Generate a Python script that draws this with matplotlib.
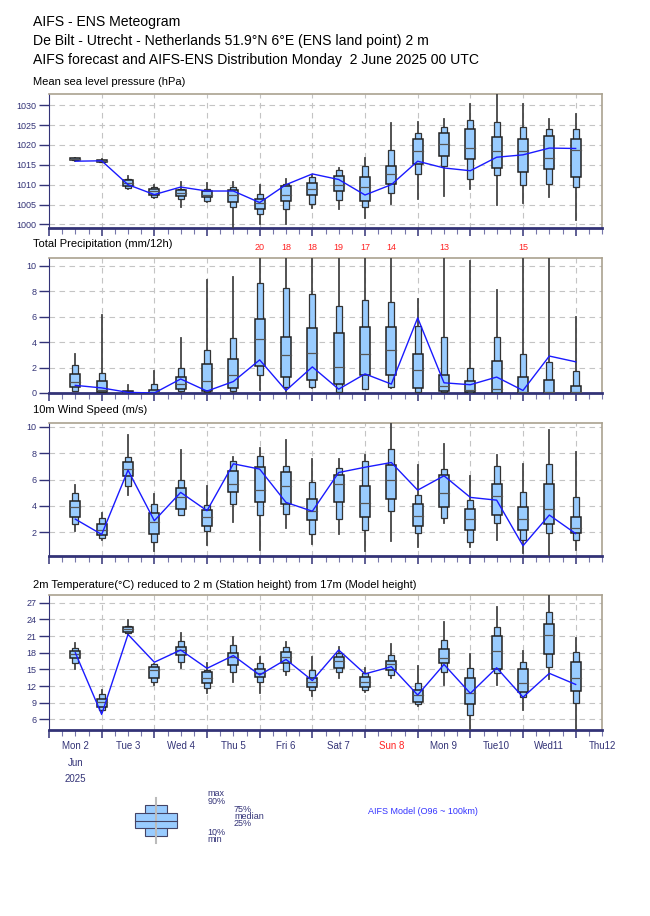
import matplotlib
matplotlib.use("Agg")
import matplotlib.pyplot as plt
from matplotlib.patches import Rectangle
from matplotlib.transforms import blended_transform_factory

plt.rcParams["font.family"] = ["Liberation Sans", "DejaVu Sans"]

# forecast steps in days from Mon 2 June 2025 00 UTC (every 12 h)
steps = [0.5 * i for i in range(1, 21)]

# Mean sea level pressure (hPa)
msl_min = [1016.0, 1015.6, 1008.8, 1006.7, 1004.4, 1005.7, 999.0, 1000.1, 1000.1, 1004.2,
           1003.9, 1001.7, 1005.1, 1006.5, 1007.1, 1009.0, 1004.9, 1005.4, 1007.0, 1001.1]
msl_p10 = [1016.1, 1015.7, 1009.2, 1007.0, 1006.3, 1005.9, 1004.4, 1002.5, 1004.0, 1005.1,
           1006.1, 1004.4, 1007.8, 1012.6, 1014.7, 1011.3, 1012.4, 1009.8, 1010.1, 1009.3]
msl_p25 = [1016.2, 1015.8, 1009.6, 1007.3, 1007.1, 1006.8, 1005.6, 1004.0, 1005.9, 1007.3,
           1008.4, 1005.9, 1010.1, 1015.2, 1017.2, 1016.5, 1014.3, 1013.1, 1013.9, 1012.0]
msl_med = [1016.4, 1016.0, 1010.4, 1008.4, 1007.9, 1007.5, 1007.4, 1005.3, 1007.5, 1008.8,
           1010.0, 1009.5, 1012.6, 1018.4, 1020.1, 1019.1, 1018.4, 1018.4, 1016.7, 1018.7]
msl_p75 = [1016.6, 1016.2, 1011.1, 1009.0, 1008.6, 1008.4, 1008.6, 1006.4, 1009.6, 1010.5,
           1012.1, 1012.0, 1014.7, 1021.6, 1022.9, 1024.1, 1021.9, 1021.6, 1022.3, 1021.4]
msl_p90 = [1016.7, 1016.3, 1011.5, 1009.5, 1009.0, 1008.8, 1009.3, 1007.6, 1010.1, 1012.0,
           1013.7, 1014.7, 1018.7, 1023.1, 1024.4, 1026.2, 1025.7, 1024.4, 1024.1, 1024.1]
msl_max = [1016.8, 1016.5, 1012.2, 1009.8, 1010.6, 1010.3, 1010.6, 1009.9, 1011.4, 1012.4,
           1014.3, 1016.6, 1025.6, 1025.8, 1026.5, 1030.3, 1034.0, 1030.3, 1026.5, 1027.7]
msl_det = [1015.9, 1016.0, 1010.0, 1007.5, 1009.4, 1008.4, 1008.4, 1005.5, 1010.0, 1012.7,
           1011.3, 1007.4, 1010.0, 1015.9, 1014.2, 1013.5, 1016.9, 1017.5, 1019.2, 1019.1]

# Total precipitation (mm/12h)
tp_min = [0.2, 0.05, 0.0, 0.0, 0.05, 0.05, 0.08, 0.2, 0.1, 0.4,
          0.05, 0.3, 0.4, 0.05, 0.05, 0.0, 0.0, 0.0, 0.0, 0.0]
tp_p10 = [0.16, 0.08, 0.02, 0.0, 0.16, 0.08, 0.16, 1.4, 0.47, 0.47,
          0.1, 0.34, 0.47, 0.08, 0.08, 0.0, 0.03, 0.03, 0.0, 0.0]
tp_p25 = [0.47, 0.08, 0.04, 0.03, 0.3, 0.16, 0.4, 2.1, 1.26, 1.0,
          0.74, 1.4, 1.45, 0.42, 0.13, 0.05, 0.03, 0.03, 0.03, 0.03]
tp_med = [0.84, 0.26, 0.08, 0.08, 0.68, 0.95, 1.42, 4.24, 2.97, 3.16,
          2.05, 3.03, 3.37, 1.84, 0.58, 0.26, 0.34, 0.08, 0.05, 0.05]
tp_p75 = [1.5, 0.95, 0.12, 0.26, 1.26, 2.3, 2.7, 5.8, 4.4, 5.08,
          4.7, 5.2, 5.2, 3.03, 1.45, 0.95, 2.5, 1.26, 1.05, 0.55]
tp_p90 = [2.16, 1.6, 0.15, 0.74, 1.97, 3.4, 4.3, 8.6, 8.25, 7.76,
          6.84, 7.3, 7.16, 5.26, 4.37, 2.0, 4.37, 3.1, 2.4, 1.74]
tp_max = [3.1, 6.1, 0.6, 1.7, 4.3, 8.9, 9.1, 20, 18, 18,
          19, 17, 14, 7.4, 13, 10.4, 8.1, 15, 10.9, 6.0]
tp_det = [0.6, 0.4, 0.05, 0.0, 1.1, 0.15, 0.9, 2.6, 0.2, 2.05,
          0.3, 1.5, 0.7, 5.9, 0.8, 0.65, 1.25, 0.2, 2.9, 2.45]

# 10m wind speed (m/s)
ws_min = [2.1, 1.4, 4.8, 0.6, 3.6, 1.0, 2.75, 0.66, 2.35, 1.1,
          1.84, 0.6, 1.36, 0.9, 2.7, 0.9, 1.4, 0.45, 0.2, 0.66]
ws_p10 = [2.6, 1.54, 5.53, 1.29, 3.3, 2.12, 4.12, 3.3, 3.38, 1.84,
          3.0, 2.17, 3.64, 1.97, 3.05, 1.29, 2.68, 1.4, 1.92, 1.4]
ws_p25 = [3.18, 1.8, 6.31, 1.84, 3.79, 2.5, 5.08, 4.32, 4.14, 2.93,
          4.32, 3.18, 4.52, 2.5, 3.9, 2.17, 3.28, 2.17, 2.63, 1.92]
ws_med = [3.89, 2.17, 6.84, 2.8, 4.65, 3.18, 5.63, 5.23, 5.5, 3.6,
          5.7, 4.2, 5.96, 3.23, 5.0, 3.0, 4.77, 3.0, 3.74, 2.3]
ws_p75 = [4.37, 2.63, 7.32, 3.43, 5.33, 3.69, 6.64, 6.97, 6.57, 4.52,
          6.36, 5.5, 7.1, 4.12, 6.36, 3.76, 5.7, 3.94, 5.63, 3.13]
ws_p90 = [4.95, 3.1, 7.73, 4.14, 5.96, 4.04, 7.4, 7.83, 7.05, 5.83,
          6.87, 7.4, 8.36, 4.82, 6.77, 4.44, 7.05, 5.03, 7.15, 4.7]
ws_max = [5.58, 3.48, 9.42, 4.9, 8.28, 5.5, 7.73, 8.4, 9.0, 7.6,
          7.55, 7.9, 10.4, 7.1, 8.74, 6.3, 7.85, 7.17, 9.75, 8.1]
ws_det = [3.0, 1.84, 6.72, 2.88, 5.03, 3.64, 7.2, 6.8, 4.27, 3.6,
          6.54, 6.94, 7.3, 5.2, 6.29, 4.65, 4.44, 0.98, 3.31, 1.9]

# 2m temperature (deg C)
t2_min = [15.1, 7.3, 21.2, 12.2, 15.3, 10.7, 12.8, 10.7, 14.0, 10.3,
          13.4, 10.9, 13.4, 8.5, 12.2, 4.0, 12.2, 7.7, 13.3, 4.0]
t2_p10 = [16.1, 7.7, 21.5, 12.8, 16.3, 11.7, 14.5, 12.8, 14.8, 11.3,
          14.6, 11.3, 14.0, 8.7, 14.5, 6.8, 14.3, 10.1, 15.5, 8.9]
t2_p25 = [17.0, 8.3, 21.8, 13.4, 17.6, 12.5, 15.8, 13.6, 16.1, 11.8,
          15.2, 11.9, 14.9, 9.2, 16.1, 8.8, 15.1, 10.9, 17.7, 11.2]
t2_med = [17.8, 9.1, 22.2, 14.9, 18.5, 13.4, 17.3, 14.3, 17.3, 12.7,
          16.5, 12.8, 16.0, 10.4, 17.0, 10.7, 18.3, 12.5, 21.2, 13.5]
t2_p75 = [18.3, 9.7, 22.6, 15.4, 19.0, 14.5, 18.0, 15.1, 18.2, 13.5,
          17.3, 13.6, 16.6, 11.3, 18.7, 13.4, 21.0, 15.1, 23.1, 16.4]
t2_p90 = [18.8, 10.6, 22.9, 16.0, 20.1, 14.9, 19.4, 16.1, 19.1, 14.9,
          18.0, 14.3, 17.6, 12.5, 20.3, 15.2, 22.7, 16.3, 25.4, 18.1]
t2_max = [19.7, 11.3, 23.9, 16.0, 21.5, 16.1, 20.9, 17.3, 20.0, 17.3,
          19.1, 15.2, 19.6, 15.7, 23.5, 17.7, 26.3, 18.3, 29.0, 20.6]
t2_det = [18.0, 6.9, 21.3, 16.3, 18.5, 15.2, 17.5, 14.0, 16.8, 13.0,
          18.5, 14.2, 15.5, 10.4, 15.9, 10.7, 15.3, 10.0, 14.3, 12.3]

day_labels = ["Mon 2", "Tue 3", "Wed 4", "Thu 5", "Fri 6", "Sat 7",
              "Sun 8", "Mon 9", "Tue10", "Wed11", "Thu12"]

NAVY = "#333377"
BOX = "#99ccff"
EDGE = "#222222"
GRID = "#c4c4c4"

fig = plt.figure(figsize=(6.5, 9.16), dpi=100)


def px(y):
    return 1 - y / 916


def make_axes(top, bottom):
    return fig.add_axes([49 / 650, px(bottom), (602 - 49) / 650, (bottom - top) / 916])


def eps_panel(ax, lo, p10, p25, med, p75, p90, hi, det, ylim, yticks):
    wide, narrow = 0.185, 0.11
    for i, x in enumerate(steps):
        ax.plot([x, x], [lo[i], hi[i]], color="#444444", lw=1.3, zorder=3)
        ax.add_patch(Rectangle((x - narrow / 2, p10[i]), narrow, p90[i] - p10[i],
                               fc=BOX, ec="#333333", lw=0.9, zorder=4))
        ax.add_patch(Rectangle((x - wide / 2, p25[i]), wide, p75[i] - p25[i],
                               fc=BOX, ec=EDGE, lw=1.1, zorder=5))
        ax.plot([x - wide / 2, x + wide / 2], [med[i], med[i]], color="#555555", lw=0.9, zorder=6)
    ax.plot(steps, det, color="#1a1aff", lw=1.0, zorder=7)

    ax.set_xlim(0, 10.5)
    ax.set_ylim(*ylim)
    ax.set_yticks(yticks)
    ax.set_xticks(range(0, 11))
    ax.set_xticks([d / 4 for d in range(0, 43)], minor=True)
    ax.set_xticklabels([])
    ax.tick_params(axis="y", colors=NAVY, labelsize=6.5, length=7, width=1, pad=2)
    ax.tick_params(axis="x", which="major", colors=NAVY, length=6, width=1.1)
    ax.tick_params(axis="x", which="minor", colors="#7777aa", length=4, width=0.8)
    for y in yticks:
        ax.axhline(y, color=GRID, lw=0.8, ls=(0, (5, 4)), zorder=1)
    for d in range(1, 11):
        ax.axvline(d, color=GRID, lw=0.8, ls=(0, (5, 4)), zorder=1)
    ax.spines["left"].set_color(NAVY)
    ax.spines["bottom"].set_color(NAVY)
    ax.spines["bottom"].set_linewidth(2)
    for side in ("top", "right"):
        ax.spines[side].set_color("#aaa290")
        ax.spines[side].set_linewidth(1.2)


# header
fig.text(33 / 650, px(26), "AIFS - ENS Meteogram", fontsize=10.1, va="baseline")
fig.text(33 / 650, px(45), "De Bilt - Utrecht - Netherlands 51.9°N 6°E (ENS land point) 2 m",
         fontsize=10.1, va="baseline")
fig.text(33 / 650, px(64), "AIFS forecast and AIFS-ENS Distribution Monday  2 June 2025 00 UTC",
         fontsize=10.1, va="baseline")

ax1 = make_axes(94, 228)
eps_panel(ax1, msl_min, msl_p10, msl_p25, msl_med, msl_p75, msl_p90, msl_max, msl_det,
          (999.1, 1032.8), range(1000, 1031, 5))
fig.text(33 / 650, px(85), "Mean sea level pressure (hPa)", fontsize=8, va="baseline")

ax2 = make_axes(258, 393)
eps_panel(ax2, tp_min, tp_p10, tp_p25, tp_med, tp_p75, tp_p90, tp_max, tp_det,
          (0, 10.6), range(0, 11, 2))
fig.text(33 / 650, px(247), "Total Precipitation (mm/12h)", fontsize=8, va="baseline")
for x, m in zip(steps, tp_max):
    if m > 11:
        ax2.text(x, 1.045, f"{m:.0f}", transform=ax2.get_xaxis_transform(),
                 color="#ff2222", fontsize=6.5, ha="center", va="bottom")

ax3 = make_axes(423, 556)
eps_panel(ax3, ws_min, ws_p10, ws_p25, ws_med, ws_p75, ws_p90, ws_max, ws_det,
          (0.2, 10.3), range(2, 11, 2))
fig.text(33 / 650, px(413), "10m Wind Speed (m/s)", fontsize=8, va="baseline")

ax4 = make_axes(595, 730)
eps_panel(ax4, t2_min, t2_p10, t2_p25, t2_med, t2_p75, t2_p90, t2_max, t2_det,
          (4.1, 28.4), range(6, 28, 3))
fig.text(33 / 650, px(588), "2m Temperature(°C) reduced to 2 m (Station height) from 17m (Model height)",
         fontsize=8, va="baseline")
day_tr = blended_transform_factory(ax4.transData, fig.transFigure)
for i, lab in enumerate(day_labels):
    ax4.text(i + 0.5, px(749), lab, transform=day_tr, ha="center", va="baseline", fontsize=7,
             color="#ff2222" if lab.startswith("Sun") else NAVY)
ax4.text(0.5, px(765.5), "Jun", transform=day_tr, ha="center", va="baseline", fontsize=7, color=NAVY)
ax4.text(0.5, px(781.5), "2025", transform=day_tr, ha="center", va="baseline", fontsize=7, color=NAVY)

# legend drawn in pixel coordinates
lg = fig.add_axes([0, 0, 1, 1], facecolor="none")
lg.set_xlim(0, 650)
lg.set_ylim(916, 0)
lg.axis("off")
lg.plot([155.7, 155.7], [798, 843], color="#bbbbbb", lw=1.5)
lg.add_patch(Rectangle((145, 805), 21.7, 31, fc=BOX, ec="#444466", lw=0.8))
lg.add_patch(Rectangle((135, 813), 41.7, 15, fc=BOX, ec="#444466", lw=0.8))
lg.plot([135, 176.7], [820.5, 820.5], color="#444466", lw=0.8)
for txt, x, y in [("max", 207.5, 796.5), ("90%", 207.5, 804), ("75%", 234, 811.5),
                  ("median", 234, 819), ("25%", 234, 826.5), ("10%", 207.5, 835),
                  ("min", 207.5, 842.5)]:
    lg.text(x, y, txt, fontsize=6.5, color=NAVY, va="baseline")
lg.text(368, 814, "AIFS Model (O96 ~ 100km)", fontsize=6.5, color="#3333ff", va="baseline")

fig.savefig("out.png", dpi=100)
